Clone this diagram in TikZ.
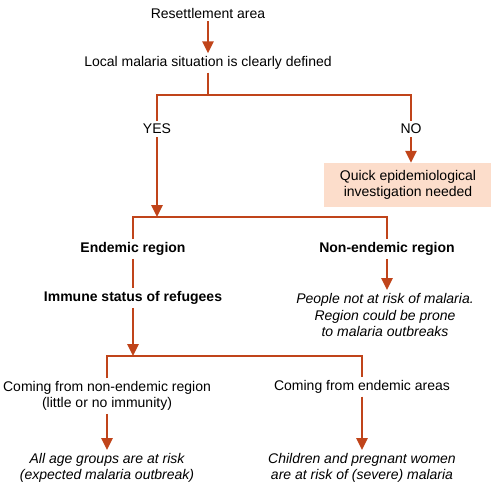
\documentclass[tikz,border=0pt]{standalone}
\usepackage{fontspec}
\setmainfont{Liberation Sans}
\usetikzlibrary{arrows.meta}
\definecolor{rust}{RGB}{192,68,26}
\definecolor{peach}{RGB}{252,221,203}
\tikzset{
txt/.style={
	text centered,
	align=center,
	inner sep=3pt,
	font=\fontsize{14}{16.5}\selectfont
},
headtxt/.style={
	txt,
	font=\fontsize{14}{16.5}\selectfont\bfseries
},
risktxt/.style={
	txt,
	font=\fontsize{14}{16.5}\selectfont\itshape
},
notebox/.style={
	txt,
	fill=peach,
	minimum width=168pt,
	minimum height=44pt
},
conn/.style={
	draw=rust,
	line width=2.5pt
},
arrow/.style={
	conn,
	-{Triangle[width=11pt,length=12pt]}
}
}

\begin{document}
\begin{tikzpicture}[x=1pt, y=-1pt]
\useasboundingbox (0,0) rectangle (491,485);
% ===== Top =====
\node (area)    [txt]      at (208, 13)  {Resettlement area};
\node (local)   [txt]      at (208, 63)  {Local malaria situation is clearly defined};
\node (yes)     [txt]      at (157, 129) {YES};
\node (no)      [txt]      at (411, 129) {NO};
\node (quick)   [notebox]  at (408, 185) {Quick epidemiological\\investigation needed};
% ===== Regions =====
\node (endemic) [headtxt]  at (133, 249) {Endemic region};
\node (nonend)  [headtxt]  at (387, 249) {Non-endemic region};
\node (immune)  [headtxt]  at (133, 298) {Immune status of refugees};
\node (people)  [risktxt]  at (385, 315) {People not at risk of malaria.\\Region could be prone\\to malaria outbreaks};
% ===== Refugee origin =====
\node (fromnon) [txt]      at (107, 396) {Coming from non-endemic region\\(little or no immunity)};
\node (fromend) [txt]      at (362, 387) {Coming from endemic areas};
\node (allages) [risktxt]  at (107, 468) {All age groups are at risk\\(expected malaria outbreak)};
\node (children)[risktxt]  at (362, 468) {Children and pregnant women\\are at risk of (severe) malaria};
% ===== Junctions =====
\coordinate (split1) at (208, 95);
\coordinate (split2) at (157, 217);
\coordinate (split3) at (133, 356);

% ===== Connectors =====
\draw [arrow] (area) -- (local);
\draw [conn]  (local) -- (split1);
\draw [conn]  (yes) |- (split1) -| (no);
\draw [arrow] (no) -- (no |- quick.north);
\draw [arrow] (yes) -- (split2);
\draw [conn]  (endemic) |- (split2) -| (nonend);
\draw [conn]  (endemic) -- (immune);
\draw [arrow] (nonend) -- (nonend |- people.north);
\draw [arrow] (immune) -- (split3);
\draw [conn]  (fromnon) |- (split3) -| (fromend);
\draw [arrow] (fromnon) -- (allages);
\draw [arrow] (fromend) -- (children);

\end{tikzpicture}
\end{document}
